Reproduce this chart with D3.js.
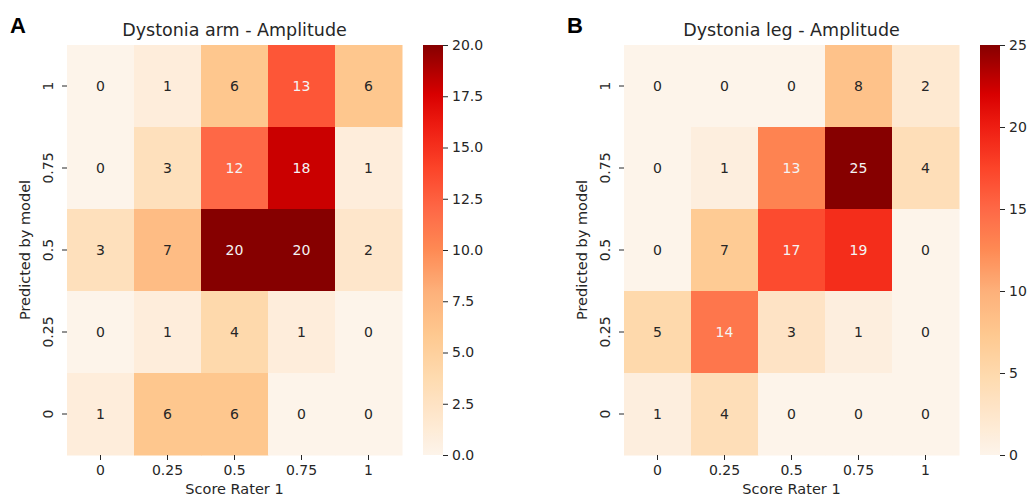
<!DOCTYPE html>
<html>
<head>
<meta charset="utf-8">
<script src="https://cdn.jsdelivr.net/npm/d3@7"></script>
<style>
  body { margin: 0; background: #fff; }
  text { font-family: "DejaVu Sans", sans-serif; fill: #262626; }
  .tick line { stroke: #262626; }
  .domain { display: none; }
</style>
</head>
<body>
<div id="chart"></div>
<script>
"use strict";

// score levels (columns = rater, rows = model, top row first)
const xLevels = ["0", "0.25", "0.5", "0.75", "1"];
const yLevels = ["1", "0.75", "0.5", "0.25", "0"];

// Dystonia arm - amplitude counts, rows in yLevels order
const armCounts = [
    [0, 1, 6, 13, 6],
    [0, 3, 12, 18, 1],
    [3, 7, 20, 20, 2],
    [0, 1, 4, 1, 0],
    [1, 6, 6, 0, 0]
];
const armTicks = [0, 2.5, 5, 7.5, 10, 12.5, 15, 17.5, 20];

// Dystonia leg - amplitude counts
const legCounts = [
    [0, 0, 0, 8, 2],
    [0, 1, 13, 25, 4],
    [0, 7, 17, 19, 0],
    [5, 14, 3, 1, 0],
    [1, 4, 0, 0, 0]
];
const legTicks = [0, 5, 10, 15, 20, 25];

// colour ramp (light peach -> orange -> red -> dark red)
const rampStops = [0, 0.1, 0.2, 0.3, 0.4, 0.5, 0.6, 0.7, 0.8, 0.88, 1];
const rampColors = ["#fdf4ea", "#fee6cb", "#fed9ac", "#fec78e", "#fdb07a", "#fe8a54",
                    "#fe6846", "#fc4429", "#ee1d12", "#d80000", "#860000"];

const W = 1033, H = 499;
const svg = d3.select("#chart").append("svg")
    .attr("width", W)
    .attr("height", H);

function heatmap(opt) {
    const g = svg.append("g");
    const top = 45, bottom = 455;

    const x = d3.scaleBand().domain(opt.cols).range([opt.left, opt.left + 335]);
    const y = d3.scaleBand().domain(opt.rows).range([top, bottom]);

    const ramp = d3.scaleLinear().domain(rampStops).range(rampColors).clamp(true);
    const color = v => ramp(v / opt.max);

    // cells
    const cells = [];
    opt.values.forEach((row, i) => row.forEach((v, j) =>
        cells.push({ r: opt.rows[i], c: opt.cols[j], v: v })));

    g.selectAll("rect.cell")
        .data(cells)
        .enter()
        .append("rect")
        .attr("class", "cell")
        .attr("x", d => x(d.c))
        .attr("y", d => y(d.r))
        .attr("width", x.bandwidth() + 0.5)
        .attr("height", y.bandwidth() + 0.5)
        .attr("fill", d => color(d.v));

    g.selectAll("text.annot")
        .data(cells)
        .enter()
        .append("text")
        .attr("class", "annot")
        .attr("x", d => x(d.c) + x.bandwidth() / 2)
        .attr("y", d => y(d.r) + y.bandwidth() / 2)
        .attr("dy", "0.36em")
        .attr("text-anchor", "middle")
        .style("font-size", "14px")
        .style("fill", d => d.v / opt.max > 0.45 ? "#f4f4f4" : "#262626")
        .text(d => d.v);

    // x axis
    const xAxis = g.append("g")
        .attr("transform", `translate(0,${bottom})`)
        .call(d3.axisBottom(x).tickSize(5).tickPadding(5));
    xAxis.selectAll("text").style("font-size", "14px");

    // y axis, labels rotated
    const yAxis = g.append("g")
        .attr("transform", `translate(${opt.left},0)`)
        .call(d3.axisLeft(y).tickSize(5));
    yAxis.selectAll(".tick text")
        .attr("x", null).attr("dy", null)
        .attr("transform", "translate(-14,0) rotate(-90)")
        .attr("text-anchor", "middle")
        .style("font-size", "14px");

    // labels
    g.append("text")
        .attr("x", opt.left + 335 / 2)
        .attr("y", 494)
        .attr("text-anchor", "middle")
        .style("font-size", "14.5px")
        .text("Score Rater 1");

    g.append("text")
        .attr("transform", `translate(${opt.left - 37},${(top + bottom) / 2}) rotate(-90)`)
        .attr("text-anchor", "middle")
        .style("font-size", "14.5px")
        .text("Predicted by model");

    g.append("text")
        .attr("x", opt.left + 335 / 2)
        .attr("y", 36)
        .attr("text-anchor", "middle")
        .style("font-size", "17.5px")
        .text(opt.title);

    g.append("text")
        .attr("x", opt.left - 57)
        .attr("y", 33)
        .style("font-family", "'Liberation Sans', Arial, sans-serif")
        .style("font-weight", "bold")
        .style("font-size", "22px")
        .style("fill", "#000")
        .text(opt.letter);

    // colour bar
    const cbx = opt.left + 356;
    const gradId = "grad" + opt.letter;
    const grad = svg.append("defs").append("linearGradient")
        .attr("id", gradId)
        .attr("x1", "0%").attr("y1", "100%")
        .attr("x2", "0%").attr("y2", "0%");
    d3.range(0, 1.0001, 0.02).forEach(t => {
        grad.append("stop")
            .attr("offset", (t * 100) + "%")
            .attr("stop-color", ramp(t));
    });
    g.append("rect")
        .attr("x", cbx)
        .attr("y", top)
        .attr("width", 20)
        .attr("height", bottom - top)
        .style("fill", `url(#${gradId})`);

    const cScale = d3.scaleLinear().domain([0, opt.max]).range([bottom, top]);
    const cAxis = g.append("g")
        .attr("transform", `translate(${cbx + 20},0)`)
        .call(d3.axisRight(cScale).tickValues(opt.ticks).tickFormat(d3.format(opt.fmt))
            .tickSize(5).tickPadding(4));
    cAxis.selectAll("text").style("font-size", "14px");
}

heatmap({ left: 67, title: "Dystonia arm - Amplitude", letter: "A",
          rows: yLevels, cols: xLevels, values: armCounts, max: 20, ticks: armTicks, fmt: ".1f" });
heatmap({ left: 624, title: "Dystonia leg - Amplitude", letter: "B",
          rows: yLevels, cols: xLevels, values: legCounts, max: 25, ticks: legTicks, fmt: "d" });
</script>
</body>
</html>
